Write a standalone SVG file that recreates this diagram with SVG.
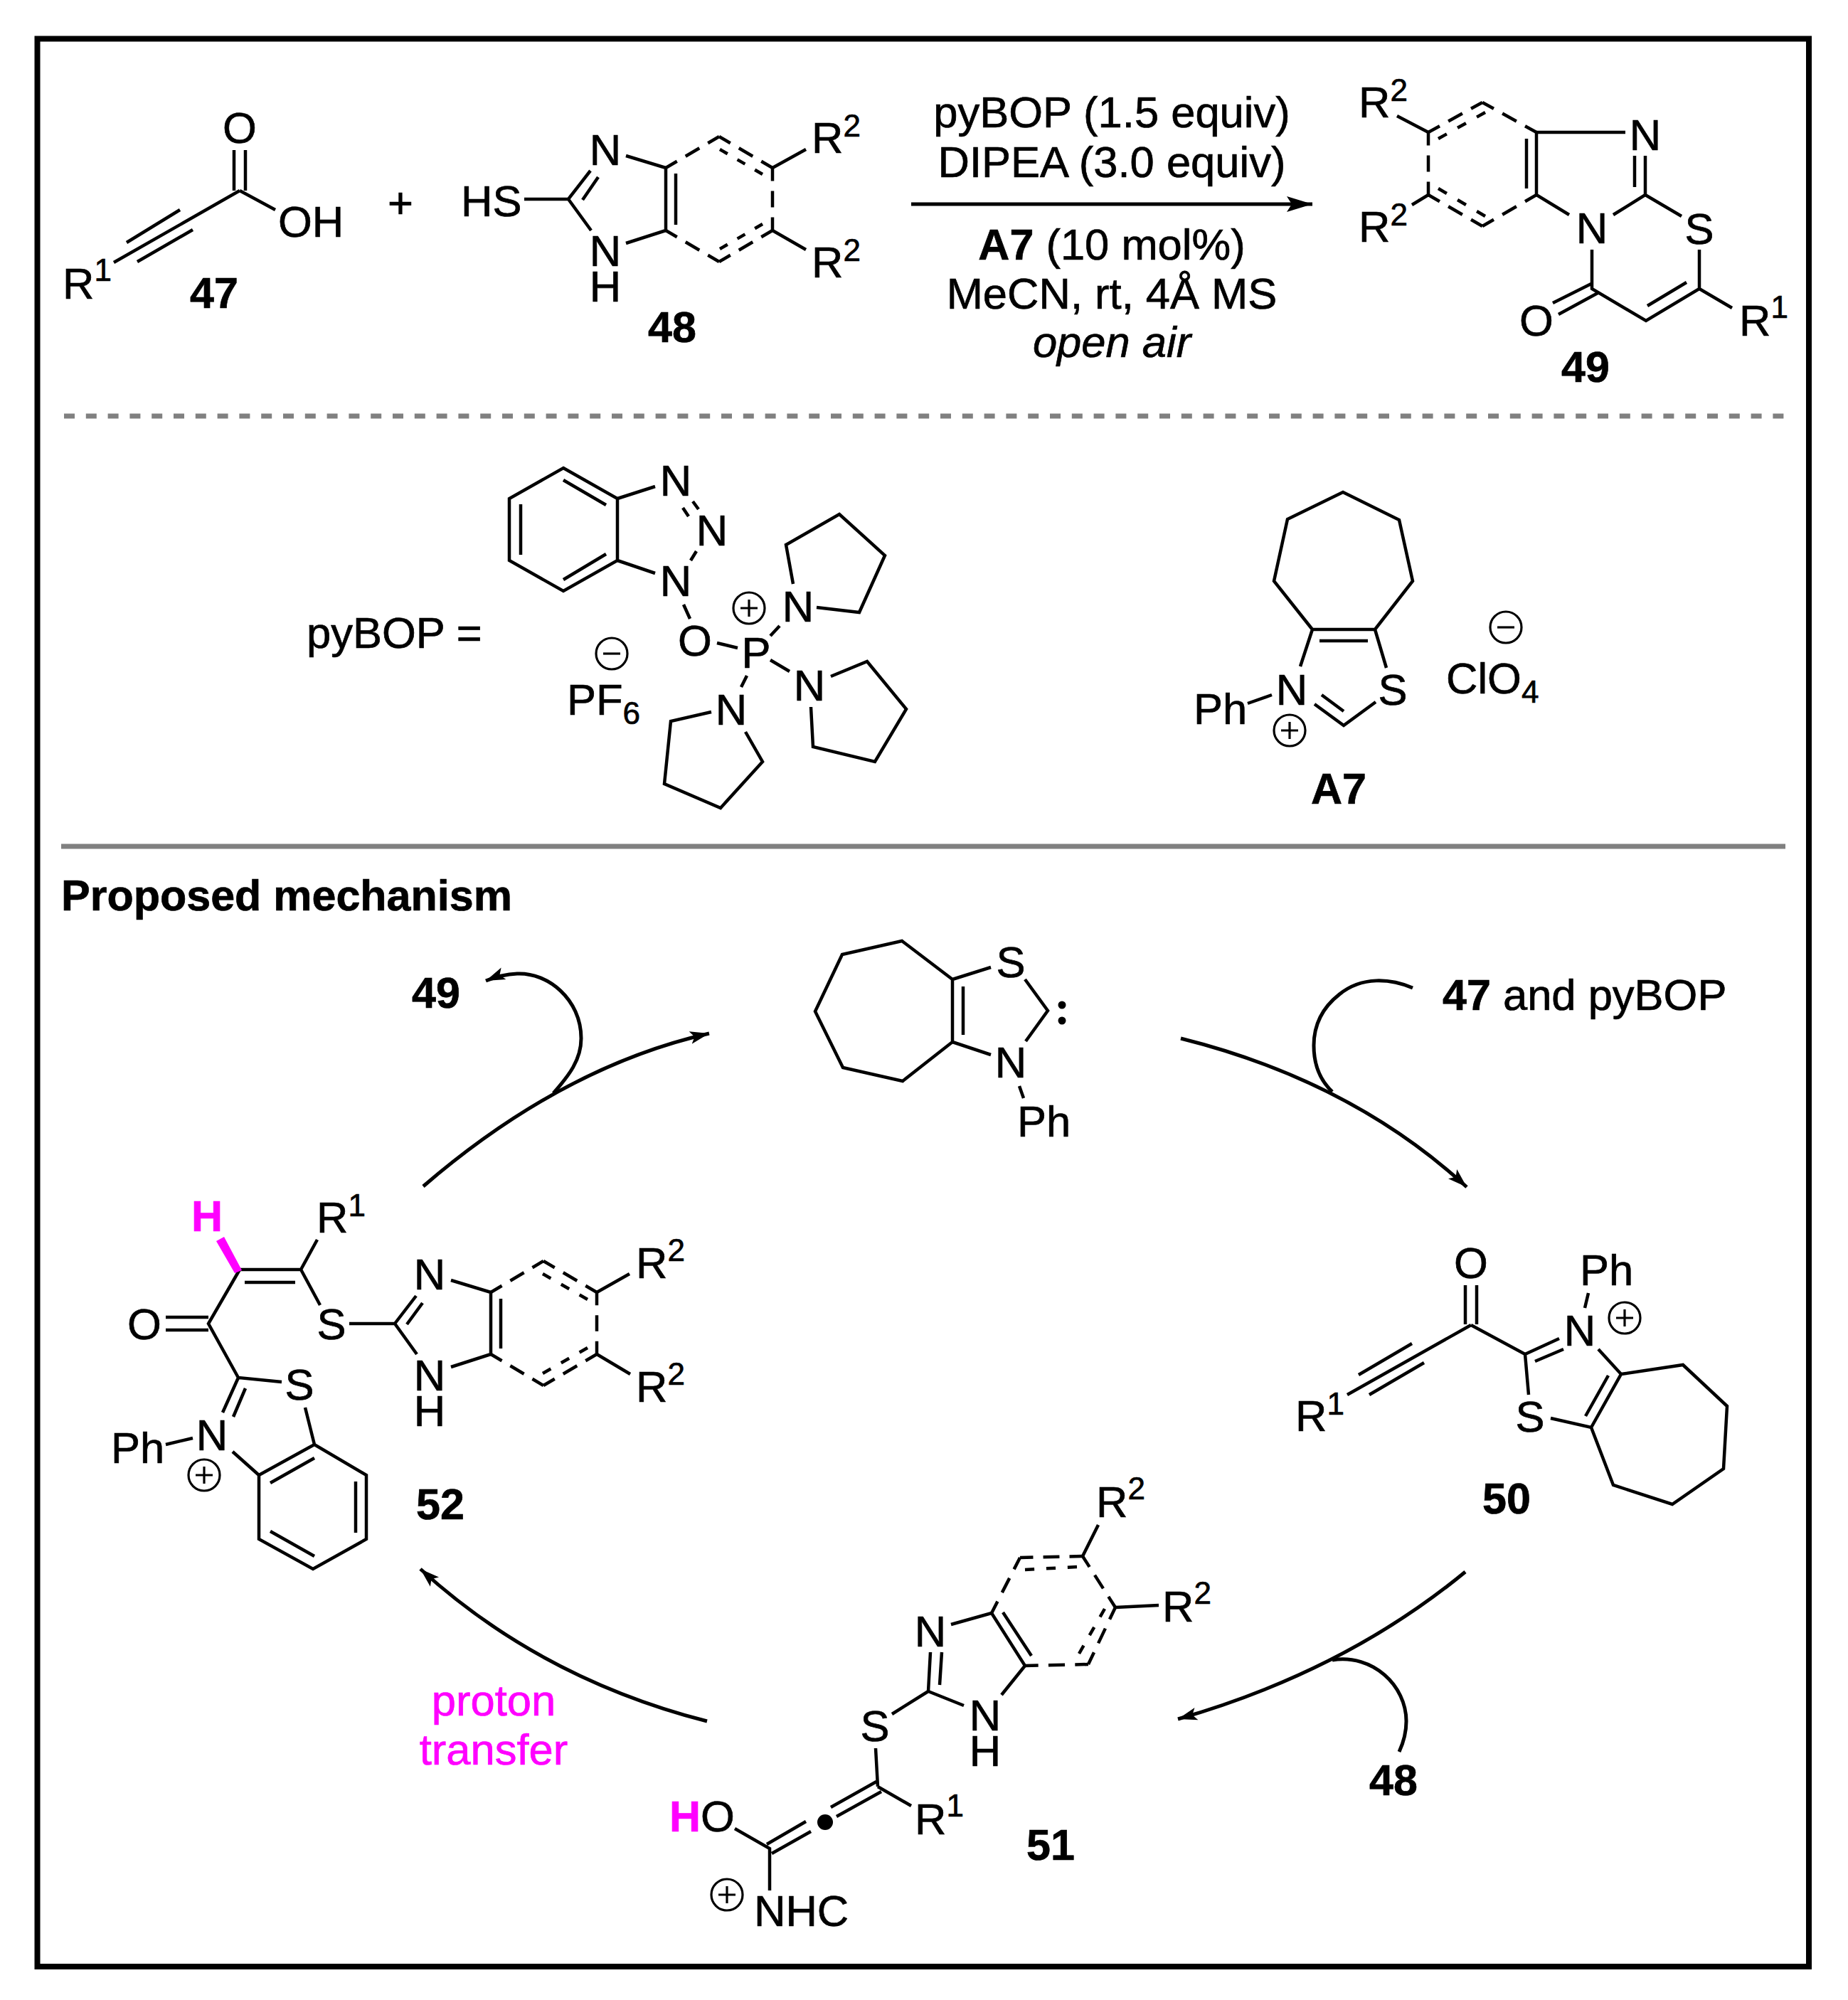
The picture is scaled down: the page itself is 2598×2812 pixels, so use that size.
<svg xmlns="http://www.w3.org/2000/svg" width="2598" height="2812" viewBox="0 0 2598 2812">
<style>
text{font-family:"Liberation Sans",Arial,sans-serif;font-size:61.5px;fill:#000;stroke:#000;stroke-width:.7}
.m{text-anchor:middle}
.bd{font-weight:700;font-size:61px}
.u{font-size:44px}
.pk{fill:#f0f;stroke:#f0f}
.b{fill:none;stroke:#000;stroke-width:4.5;stroke-linejoin:miter}
.d{fill:none;stroke:#000;stroke-width:4.5;stroke-dasharray:21 16 26 16 21}
.i{fill:none;stroke:#000;stroke-width:4.5;stroke-dasharray:18 23 18 23 18}
.c{fill:none;stroke:#000;stroke-width:3.2}
.ar{fill:none;stroke:#000;stroke-width:5}
</style>
<defs>
<marker id="hd" markerUnits="userSpaceOnUse" markerWidth="40" markerHeight="30" refX="36" refY="15" orient="auto"><path d="M0 4L36 15L0 26L7 15Z"/></marker>
<marker id="hs" markerUnits="userSpaceOnUse" markerWidth="34" markerHeight="26" refX="27" refY="13" orient="auto"><path d="M0 4L27 13L0 22L6 13Z"/></marker>
</defs>
<rect width="2598" height="2812" fill="#fff"/>
<g id="frame">
<rect x="52.5" y="54.5" width="2490.5" height="2710.5" fill="none" stroke="#000" stroke-width="8"/>
<path d="M90 585H2518" fill="none" stroke="#808080" stroke-width="7" stroke-dasharray="15 15.8"/>
<path d="M86 1190H2510" fill="none" stroke="#808080" stroke-width="7"/>
<text x="86" y="1280" class="bd">Proposed mechanism</text>
</g>
<g id="n47">
<path class="b" d="M329 211V268M345 211V268M337 268L160 369M253 295L178 341M271 323L193 368M337 268L387 295"/>
<text x="337" y="201" class="m">O</text>
<text x="391" y="333">OH</text>
<text x="88" y="420">R<tspan class="u" dy="-25">1</tspan></text>
<text x="301" y="433" class="m bd">47</text>
</g>
<text id="plus" x="563" y="306" class="m">+</text>
<g id="n48">
<path class="b" d="M737 280H799L830 240M819 281L841 249M799 280L831 324M880 219L936 236V324L880 342M950 244V316M1086 236L1133 210M1086 324L1133 351"/>
<line class="d" pathLength="100" x1="936" y1="236" x2="1011" y2="192"/>
<line class="d" pathLength="100" x1="1011" y1="192" x2="1086" y2="236"/>
<line class="d" pathLength="100" x1="1086" y1="236" x2="1086" y2="324"/>
<line class="d" pathLength="100" x1="1086" y1="324" x2="1011" y2="368"/>
<line class="d" pathLength="100" x1="1011" y1="368" x2="936" y2="324"/>
<line class="i" pathLength="100" x1="1012" y1="210" x2="1072" y2="245"/>
<line class="i" pathLength="100" x1="1012" y1="350" x2="1072" y2="315"/>
<text x="648" y="304">HS</text>
<text x="851" y="232" class="m">N</text>
<text x="851" y="374" class="m">N</text>
<text x="851" y="424" class="m">H</text>
<text x="1141" y="215">R<tspan class="u" dy="-23">2</tspan></text>
<text x="1141" y="390">R<tspan class="u" dy="-23">2</tspan></text>
<text x="945" y="481" class="m bd">48</text>
</g>
<g id="conditions">
<text x="1563" y="179" class="m">pyBOP (1.5 equiv)</text>
<text x="1563" y="249" class="m">DIPEA (3.0 equiv)</text>
<text x="1563" y="365" class="m"><tspan class="bd">A7</tspan> (10 mol%)</text>
<text x="1563" y="434" class="m">MeCN, rt, 4Å MS</text>
<text x="1563" y="502" class="m" font-style="italic">open air</text>
</g>
<g id="n49" transform="translate(-4 0)">
<path class="b" d="M2164 186H2289M2164 186V274L2210 302M2150 195V265M2317 219V274L2272 302M2302 219V263M2317 274L2368 304M2393 351V406L2318 451L2242 406V351M2375 397L2320 430M2241 399L2187 426M2252 411L2195 442M2393 406L2439 433M2012 186L1968 163M2012 274L1989 288"/>
<line class="d" pathLength="100" x1="2012" y1="186" x2="2088" y2="144"/>
<line class="d" pathLength="100" x1="2088" y1="144" x2="2164" y2="186"/>
<line class="d" pathLength="100" x1="2012" y1="186" x2="2012" y2="274"/>
<line class="d" pathLength="100" x1="2012" y1="274" x2="2088" y2="318"/>
<line class="d" pathLength="100" x1="2088" y1="318" x2="2164" y2="274"/>
<line class="i" pathLength="100" x1="2026" y1="195" x2="2092" y2="158"/>
<line class="i" pathLength="100" x1="2026" y1="265" x2="2092" y2="304"/>
<text x="2317" y="211" class="m">N</text>
<text x="2242" y="342" class="m">N</text>
<text x="2393" y="343" class="m">S</text>
<text x="2164" y="472" class="m">O</text>
<text x="2449" y="472">R<tspan class="u" dy="-25">1</tspan></text>
<text x="1914" y="165">R<tspan class="u" dy="-23">2</tspan></text>
<text x="1914" y="340">R<tspan class="u" dy="-23">2</tspan></text>
<text x="2233" y="537" class="m bd">49</text>
</g>
<g id="pybop">
<path class="b" d="M792 658L868 701V788L792 831L716 788V701ZM792 675L852 710M732 709V780M792 815L852 779M868 701L921 684M868 788L921 806M960 714L968 726M974 705L982 716M979 775L971 788M961 850L970 870M1008 904L1037 911M1083 894L1096 880M1083 928L1110 944M1050 950L1042 966"/>
<path class="b" d="M1115 821L1105 766L1180 723L1244 781L1208 861L1148 854"/>
<path class="b" d="M1168 951L1219 930L1274 997L1230 1071L1143 1050L1140 994"/>
<path class="b" d="M1000 1001L943 1014L934 1102L1013 1136L1072 1071L1048 1029"/>
<text x="431" y="911">pyBOP =</text>
<text x="950" y="697" class="m">N</text>
<text x="1001" y="767" class="m">N</text>
<text x="950" y="838" class="m">N</text>
<text x="977" y="922" class="m">O</text>
<text x="1063" y="939" class="m">P</text>
<text x="1122" y="874" class="m">N</text>
<text x="1138" y="985" class="m">N</text>
<text x="1028" y="1019" class="m">N</text>
<circle class="c" cx="1053" cy="855" r="22"/><path class="c" d="M1041 855H1065M1053 843V867"/>
<circle class="c" cx="860" cy="919" r="22"/><path class="c" d="M848 919H872"/>
<text x="797" y="1005">PF<tspan class="u" dy="13">6</tspan></text>
</g>
<g id="a7">
<path class="b" d="M1845 885L1791 817L1810 730L1888 692L1967 731L1986 817L1933 885ZM1855 901H1923M1845 885L1828 937M1933 885L1949 939M1848 990L1889 1020L1934 987M1858 977L1889 1000M1754 989L1788 977"/>
<text x="1816" y="991" class="m">N</text>
<text x="1958" y="991" class="m">S</text>
<text x="1678" y="1018">Ph</text>
<circle class="c" cx="1813" cy="1027" r="22"/><path class="c" d="M1801 1027H1825M1813 1015V1039"/>
<circle class="c" cx="2117" cy="882" r="22"/><path class="c" d="M2105 882H2129"/>
<text x="2033" y="975">ClO<tspan class="u" dy="13">4</tspan></text>
<text x="1882" y="1130" class="m bd">A7</text>
</g>
<g id="nhc">
<path class="b" d="M1339 1377L1268 1323L1184 1342L1146 1422L1185 1501L1269 1520L1339 1465ZM1354 1387V1455M1339 1377L1393 1360M1441 1377L1473 1421L1442 1464M1339 1465L1393 1483M1433 1527L1439 1544"/>
<text x="1421" y="1374" class="m">S</text>
<text x="1421" y="1515" class="m">N</text>
<text x="1430" y="1598">Ph</text>
<circle cx="1493" cy="1413" r="5.5"/><circle cx="1493" cy="1435" r="5.5"/>
</g>
<g id="n50">
<path class="b" d="M2060 1807V1862M2076 1807V1862M2068 1863L1894 1961M1985 1889L1910 1933M2002 1916L1925 1961M2068 1863L2144 1904L2192 1882M2158 1914L2198 1897M2144 1904L2149 1961M2247 1897L2279 1932L2237 2007L2180 1994M2261 1934L2229 1991M2279 1932L2366 1919L2428 1977L2423 2065L2351 2115L2268 2088L2237 2007M2233 1818L2228 1839"/>
<text x="2068" y="1797" class="m">O</text>
<text x="1821" y="2012">R<tspan class="u" dy="-23">1</tspan></text>
<text x="2221" y="1892" class="m">N</text>
<text x="2221" y="1807">Ph</text>
<circle class="c" cx="2284" cy="1853" r="22"/><path class="c" d="M2272 1853H2296M2284 1841V1865"/>
<text x="2151" y="2013" class="m">S</text>
<text x="2118" y="2128" class="m bd">50</text>
</g>
<g id="n51">
<path class="b" d="M1522 2188L1544 2144M1568 2260L1629 2257M1394 2268L1441 2342L1408 2383M1410 2267L1450 2328M1337 2284L1394 2268M1305 2378L1308 2323M1321 2369L1324 2323M1305 2378L1355 2398M1305 2378L1254 2410M1231 2458L1234 2512M1232 2505L1168 2541M1239 2519L1176 2554M1133 2561L1078 2593M1140 2575L1085 2606M1033 2571L1082 2599V2658M1234 2512L1281 2539"/>
<line class="d" pathLength="100" x1="1394" y1="2268" x2="1434" y2="2190"/>
<line class="d" pathLength="100" x1="1434" y1="2190" x2="1522" y2="2188"/>
<line class="d" pathLength="100" x1="1522" y1="2188" x2="1568" y2="2260"/>
<line class="d" pathLength="100" x1="1568" y1="2260" x2="1530" y2="2340"/>
<line class="d" pathLength="100" x1="1530" y1="2340" x2="1441" y2="2342"/>
<line class="i" pathLength="100" x1="1441" y1="2207" x2="1514" y2="2203"/>
<line class="i" pathLength="100" x1="1553" y1="2262" x2="1517" y2="2325"/>
<text x="1541" y="2133">R<tspan class="u" dy="-25">2</tspan></text>
<text x="1634" y="2280">R<tspan class="u" dy="-25">2</tspan></text>
<text x="1308" y="2315" class="m">N</text>
<text x="1385" y="2433" class="m">N</text>
<text x="1385" y="2483" class="m">H</text>
<text x="1230" y="2448" class="m">S</text>
<circle cx="1160" cy="2562" r="11"/>
<text x="941" y="2575"><tspan class="bd pk">H</tspan>O</text>
<text x="1060" y="2708">NHC</text>
<circle class="c" cx="1022" cy="2664" r="22"/><path class="c" d="M1010 2664H1034M1022 2652V2676"/>
<text x="1286" y="2579">R<tspan class="u" dy="-25">1</tspan></text>
<text x="1477" y="2615" class="m bd">51</text>
</g>
<g id="n52">
<path class="b" d="M337 1785H423L450 1835M344 1803H415M423 1785L446 1743M337 1785L293 1861L335 1937L396 1943M233 1852H293M233 1870H293M335 1937L313 1986M345 1952L328 1992M233 2031L271 2022M327 2041L364 2074M364 2074L442 2031L515 2074V2164L440 2206L364 2164ZM380 2085L442 2050M500 2083V2155M380 2153L442 2188M429 1979L442 2031M491 1861H555L586 1904M555 1861L585 1822M572 1862L594 1832M634 1800L690 1817V1904L634 1922M704 1826V1896M839 1817L885 1791M839 1904L886 1932"/>
<path d="M304 1745L315 1739L340 1786L330 1790Z" fill="#f0f"/>
<line class="d" pathLength="100" x1="690" y1="1817" x2="764" y2="1773"/>
<line class="d" pathLength="100" x1="764" y1="1773" x2="839" y2="1817"/>
<line class="d" pathLength="100" x1="839" y1="1817" x2="839" y2="1904"/>
<line class="d" pathLength="100" x1="839" y1="1904" x2="764" y2="1948"/>
<line class="d" pathLength="100" x1="764" y1="1948" x2="690" y2="1904"/>
<line class="i" pathLength="100" x1="763" y1="1791" x2="826" y2="1827"/>
<line class="i" pathLength="100" x1="763" y1="1931" x2="826" y2="1895"/>
<text x="291" y="1731" class="m bd pk">H</text>
<text x="445" y="1733">R<tspan class="u" dy="-23">1</tspan></text>
<text x="203" y="1883" class="m">O</text>
<text x="466" y="1883" class="m">S</text>
<text x="421" y="1968" class="m">S</text>
<text x="298" y="2039" class="m">N</text>
<text x="156" y="2057">Ph</text>
<circle class="c" cx="287" cy="2074" r="22"/><path class="c" d="M275 2074H299M287 2062V2086"/>
<text x="604" y="1813" class="m">N</text>
<text x="604" y="1955" class="m">N</text>
<text x="604" y="2005" class="m">H</text>
<text x="894" y="1797">R<tspan class="u" dy="-24">2</tspan></text>
<text x="894" y="1971">R<tspan class="u" dy="-24">2</tspan></text>
<text x="619" y="2136" class="m bd">52</text>
</g>
<g id="labels">
<text x="613" y="1417" class="m bd">49</text>
<text x="2028" y="1420"><tspan class="bd">47</tspan> and pyBOP</text>
<text x="1959" y="2524" class="m bd">48</text>
<text x="694" y="2412" class="m pk">proton</text>
<text x="694" y="2481" class="m pk">transfer</text>
</g>
<g id="connectors">
<path class="ar" marker-end="url(#hd)" d="M1281 287H1845"/>
<path class="ar" marker-end="url(#hs)" d="M595 1668Q790 1500 997 1453"/>
<path class="ar" marker-end="url(#hs)" d="M778 1537C800 1512 817 1490 817 1460C817 1405 770 1367 727 1369Q705 1370 683 1379"/>
<path class="ar" marker-end="url(#hs)" d="M1660 1460Q1900 1520 2062 1669"/>
<path class="ar" d="M1986 1389C1955 1376 1915 1372 1883 1398C1855 1420 1847 1445 1847 1470C1847 1495 1855 1518 1873 1535"/>
<path class="ar" marker-end="url(#hs)" d="M2060 2210Q1890 2350 1656 2417"/>
<path class="ar" d="M1873 2334C1930 2325 1977 2370 1977 2420C1977 2436 1973 2450 1967 2463"/>
<path class="ar" marker-end="url(#hs)" d="M994 2420Q760 2360 591 2206"/>
</g>
</svg>
